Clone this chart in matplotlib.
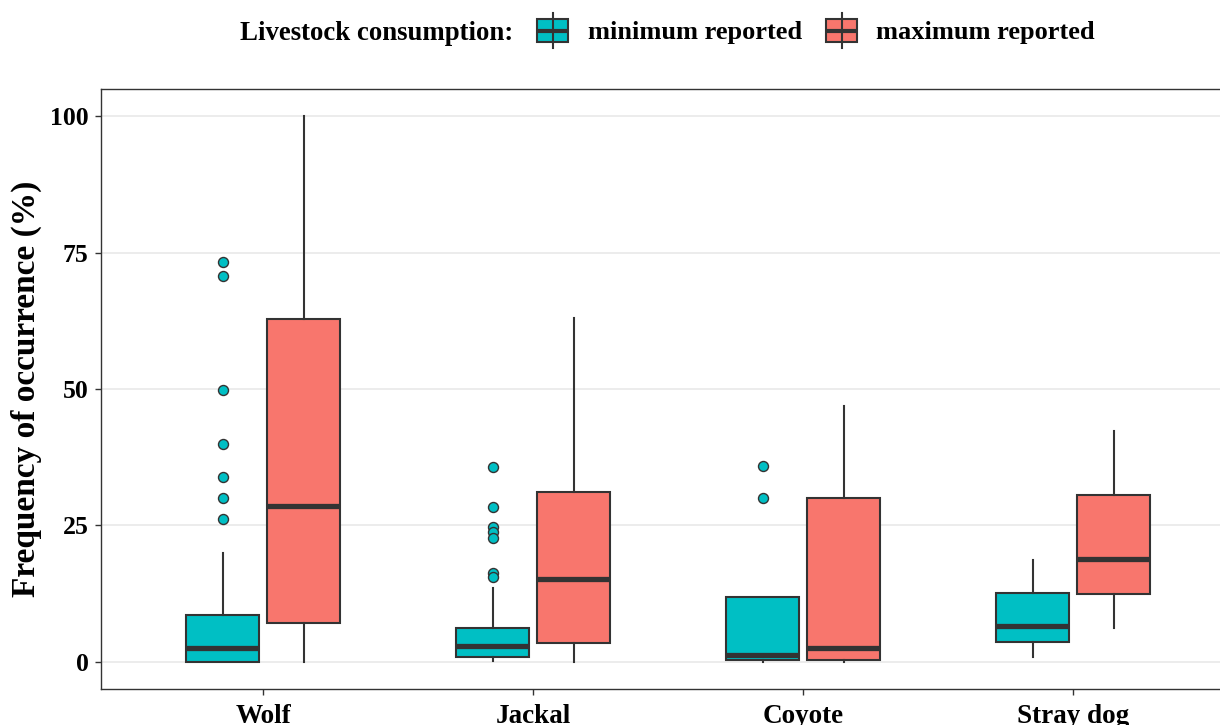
import matplotlib
matplotlib.use("Agg")
import matplotlib.pyplot as plt
from matplotlib.patches import Rectangle
from matplotlib.lines import Line2D

categories = ["Wolf", "Jackal", "Coyote", "Stray dog"]

# minimum reported
min_whislo = [0.0, 0.2, 0.0, 0.9]
min_q1 = [0.0, 0.9, 0.3, 3.7]
min_med = [2.5, 2.9, 1.3, 6.5]
min_q3 = [8.6, 6.1, 11.9, 12.6]
min_whishi = [19.9, 13.6, 11.9, 18.6]
min_fliers = [
    [73.3, 70.8, 49.9, 39.9, 33.9, 30.0, 26.2],
    [35.7, 28.4, 24.7, 23.7, 22.6, 16.2, 15.5],
    [35.9, 30.0],
    [],
]

# maximum reported
max_whislo = [0.0, 0.0, 0.0, 6.1]
max_q1 = [7.1, 3.4, 0.3, 12.4]
max_med = [28.5, 15.2, 2.6, 18.75]
max_q3 = [62.9, 31.1, 30.0, 30.5]
max_whishi = [100.0, 63.0, 46.9, 42.3]
max_fliers = [[], [], [], []]

series_labels = ["minimum reported", "maximum reported"]
colors = ["#00BFC4", "#F8766D"]
edge = "#333333"
FONT = "Liberation Serif"

plt.rcParams["font.family"] = [FONT, "DejaVu Serif"]

W, H = 1220, 725
fig = plt.figure(figsize=(W / 100, H / 100), dpi=100)
ax_left, ax_bottom, ax_top = 101, 689, 89
unit = 270
ax = fig.add_axes([ax_left / W, 1 - ax_bottom / H, 4.2 * unit / W, (ax_bottom - ax_top) / H])


def stats(wl, q1, med, q3, wh, fl):
    return [dict(whislo=a, q1=b, med=c, q3=d, whishi=e, fliers=f)
            for a, b, c, d, e, f in zip(wl, q1, med, q3, wh, fl)]


groups = [
    stats(min_whislo, min_q1, min_med, min_q3, min_whishi, min_fliers),
    stats(max_whislo, max_q1, max_med, max_q3, max_whishi, max_fliers),
]
offsets = [-0.15, 0.15]
for g, off, col in zip(groups, offsets, colors):
    pos = [i + 1 + off for i in range(len(categories))]
    ax.bxp(g, positions=pos, widths=0.272, patch_artist=True, showcaps=False,
           boxprops=dict(facecolor=col, edgecolor=edge, linewidth=1.5),
           whiskerprops=dict(color=edge, linewidth=1.5),
           medianprops=dict(color=edge, linewidth=3.8, solid_capstyle="butt"),
           flierprops=dict(marker="o", markerfacecolor=col, markeredgecolor=edge,
                           markersize=7.2, markeredgewidth=1.0),
           manage_ticks=False, zorder=3)

ax.set_xlim(0.4, 4.6)
ax.set_ylim(-5, 105)
ax.set_xticks(range(1, len(categories) + 1))
ax.set_xticklabels(categories)
ax.set_yticks([0, 25, 50, 75, 100])
ax.yaxis.grid(True, color="#EBEBEB", linewidth=1.3, zorder=0)
ax.xaxis.grid(False)
ax.set_axisbelow(True)
for s in ax.spines.values():
    s.set_color(edge)
    s.set_linewidth(1.0)
ax.tick_params(axis="both", colors=edge, length=4, width=1.0, labelcolor="black")
ax.tick_params(axis="y", labelsize=18.5, pad=5)
ax.tick_params(axis="x", labelsize=19.5, pad=7)
for lab in ax.get_xticklabels() + ax.get_yticklabels():
    lab.set_fontweight("bold")
ax.set_ylabel("Frequency of occurrence (%)", fontsize=24, fontweight="bold", labelpad=6)

# legend (ggplot style, on top)
def fx(x):
    return x / W


def fy(y):
    return 1 - y / H


ty = 33
fig.text(fx(240), fy(ty), "Livestock consumption:", fontsize=19.3, fontweight="bold",
         va="center", ha="left")
key_x = [537, 826]
text_x = [588, 876]
for kx, tx, col, lab in zip(key_x, text_x, colors, series_labels):
    cx = kx + 15.5
    fig.add_artist(Line2D([fx(cx), fx(cx)], [fy(13), fy(48)], color=edge, lw=1.5,
                          transform=fig.transFigure))
    fig.add_artist(Rectangle((fx(kx), fy(42)), fx(31), 23 / H, facecolor=col,
                             edgecolor=edge, lw=1.5, transform=fig.transFigure))
    fig.add_artist(Line2D([fx(kx), fx(kx + 31)], [fy(30.5), fy(30.5)], color=edge,
                          lw=3.0, solid_capstyle="butt", transform=fig.transFigure))
    fig.text(fx(tx), fy(ty), lab, fontsize=19, fontweight="bold", va="center", ha="left")

fig.savefig("out.png", dpi=100)
